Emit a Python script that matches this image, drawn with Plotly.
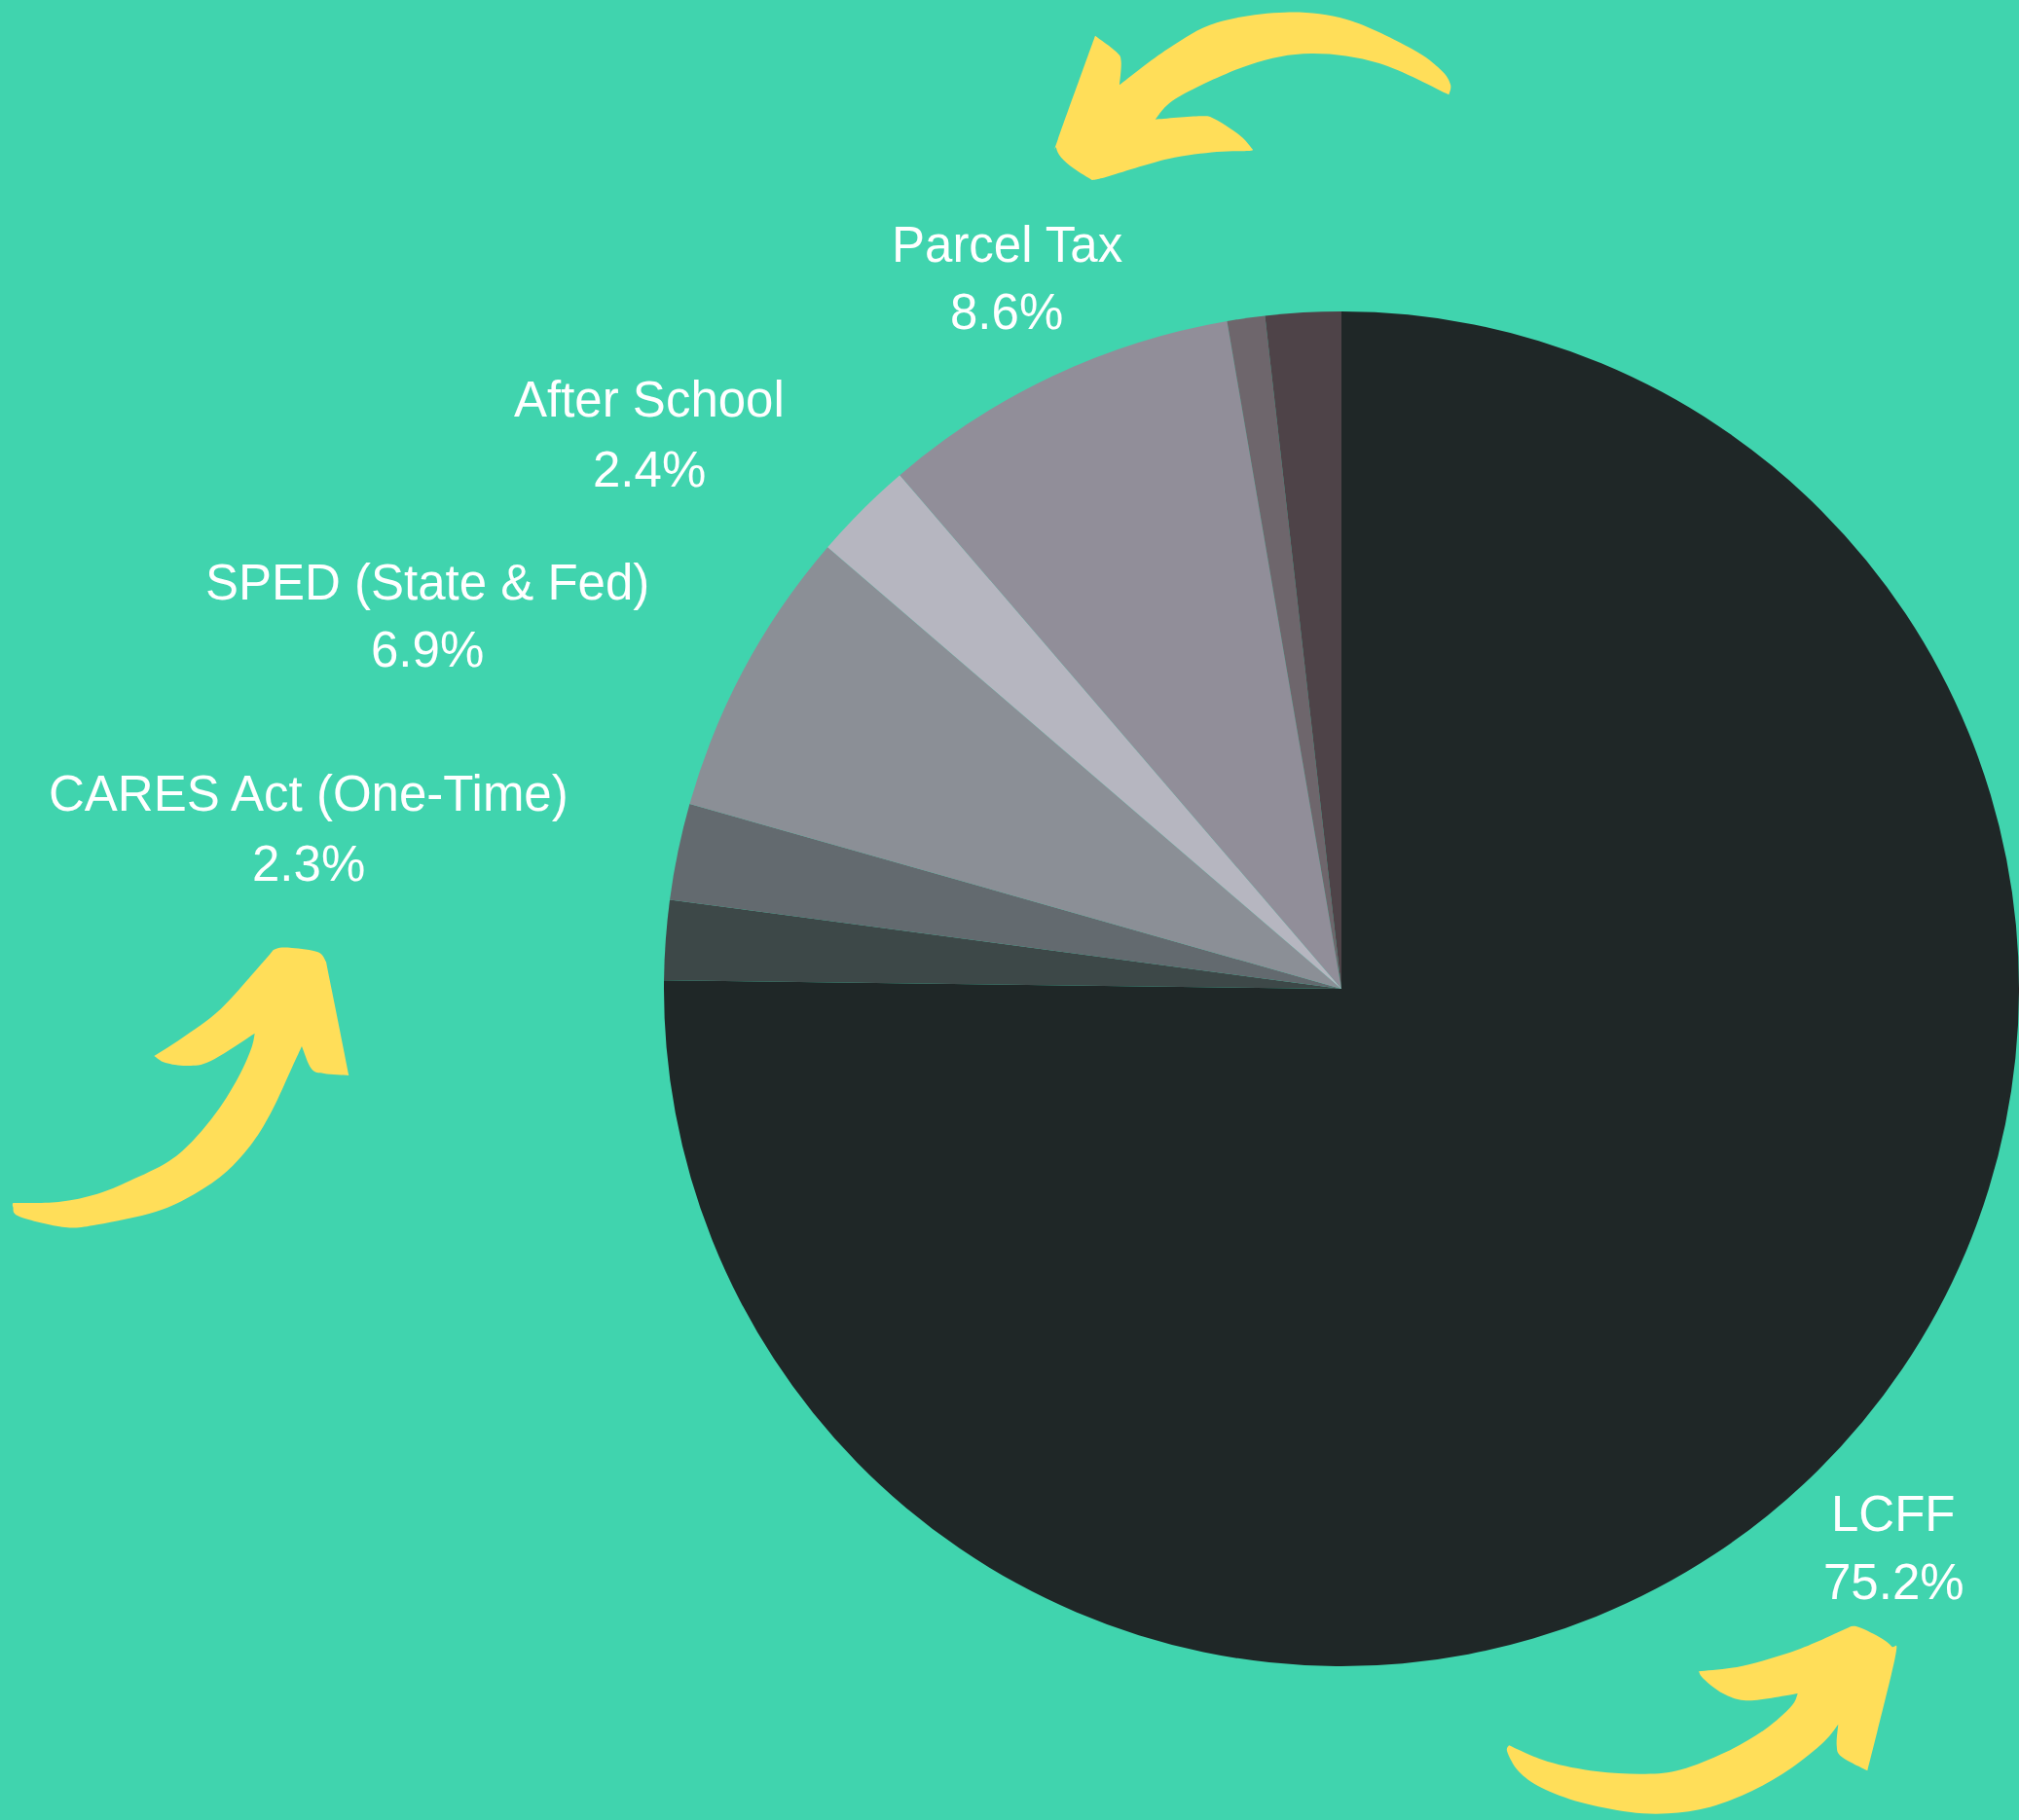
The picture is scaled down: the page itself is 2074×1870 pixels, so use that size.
import plotly.graph_objects as go

# ---- data -------------------------------------------------------------
sources = [
    "LCFF",
    "Other (1)",
    "CARES Act (One-Time)",
    "SPED (State & Fed)",
    "After School",
    "Parcel Tax",
    "Other (2)",
    "Other (3)",
]
shares = [75.2, 1.9, 2.3, 6.9, 2.4, 8.6, 0.9, 1.8]
slice_colors = [
    "#1f2727", "#3d4848", "#636a6f", "#8b8f96",
    "#b6b6c0", "#918e99", "#6e666c", "#4e4348",
]
labelled = ["Parcel Tax", "After School", "SPED (State & Fed)",
            "CARES Act (One-Time)", "LCFF"]

# ---- layout constants (pixels) ---------------------------------------
W, H = 2074, 1870
BG = "#40d4ae"
YELLOW = "#ffde59"
FONT = "Liberation Sans, Arial, sans-serif"
FONT_SIZE = 51

# pie centre / radius in pixels
CX, CY, R = 1378, 1016, 696

# text placement: centre x, name middle y, percentage middle y
label_pos = {
    "Parcel Tax": (1034, 251, 321),
    "After School": (667, 411, 482),
    "SPED (State & Fed)": (439, 598, 668),
    "CARES Act (One-Time)": (317, 816, 887),
    "LCFF": (1945, 1555, 1625),
}


def px(x, y):
    return x / W, 1 - y / H


def catmull(run):
    """Cubic Bezier segments through the points of one smooth run."""
    segs = []
    n = len(run)
    for i in range(n - 1):
        p0 = run[i - 1] if i > 0 else run[i]
        p1 = run[i]
        p2 = run[i + 1]
        p3 = run[i + 2] if i + 2 < n else run[i + 1]
        c1 = (p1[0] + (p2[0] - p0[0]) / 6, p1[1] + (p2[1] - p0[1]) / 6)
        c2 = (p2[0] - (p3[0] - p1[0]) / 6, p2[1] - (p3[1] - p1[1]) / 6)
        segs.append((c1, c2, p2))
    return segs


def outline_path(runs):
    x0, y0 = px(*runs[0][0])
    parts = [f"M {x0:.5f},{y0:.5f}"]
    for run in runs:
        for c1, c2, p in catmull(run):
            a = px(*c1)
            b = px(*c2)
            c = px(*p)
            parts.append(
                f"C {a[0]:.5f},{a[1]:.5f} {b[0]:.5f},{b[1]:.5f} {c[0]:.5f},{c[1]:.5f}"
            )
    parts.append("Z")
    return " ".join(parts)


# hand-drawn style arrows, each outline split into smooth runs joined at corners
arrow_top = [
    [(1488.3, 97.3), (1490, 86.7), (1480, 71.7), (1450, 50), (1383.3, 20),
     (1320, 12.7), (1250, 23.3), (1200, 50), (1150, 87.3)],
    [(1150, 87.3), (1151.7, 63.3), (1146.7, 53.3), (1125, 36.7)],
    [(1125, 36.7), (1086.7, 143.3), (1085, 151.7), (1090, 161.7),
     (1103.3, 173.3), (1121.7, 185)],
    [(1121.7, 185), (1136.7, 181.7), (1200, 163.3), (1250, 156),
     (1283.3, 155), (1286.7, 153.3)],
    [(1286.7, 153.3), (1276.7, 141.7), (1263.3, 131.7), (1246.7, 121.7),
     (1233.3, 119.3), (1186.7, 122.7)],
    [(1186.7, 122.7), (1210, 100), (1283.3, 66.7), (1346.7, 55),
     (1416.7, 65), (1488.3, 97.3)],
]

arrow_left = [
    [(13.3, 1236), (60, 1235), (100, 1226.7), (133.3, 1213.3),
     (173.3, 1193.3), (200, 1170), (226.7, 1136.7), (246.7, 1103.3),
     (258.3, 1076.7), (261.7, 1061.7)],
    [(261.7, 1061.7), (216.7, 1090), (193.3, 1095), (170, 1092),
     (158.3, 1085)],
    [(158.3, 1085), (186.7, 1066.7), (226.7, 1036.7), (273.3, 985),
     (283.3, 975), (300, 974), (326.7, 978.3), (335, 988.3)],
    [(335, 988.3), (346.7, 1046.7), (358.3, 1105)],
    [(358.3, 1105), (333, 1103), (320, 1098.3), (310, 1075)],
    [(310, 1075), (300, 1096.7), (280, 1140), (260, 1173.3),
     (233.3, 1203.3), (200, 1226.7), (160, 1245), (100, 1258.3),
     (66.7, 1261), (20, 1250), (13.3, 1240), (13.3, 1236)],
]

arrow_bottom = [
    [(1550, 1793.3), (1548.3, 1800), (1560, 1820), (1583.3, 1836.7),
     (1623.3, 1851.7), (1673.3, 1861.7), (1713.3, 1863.3),
     (1756.7, 1856.7), (1800, 1840), (1840, 1816.7), (1873.3, 1790),
     (1888.3, 1771.7)],
    [(1888.3, 1771.7), (1886.7, 1793.3), (1891.7, 1805), (1918.3, 1819.3)],
    [(1918.3, 1819.3), (1946.7, 1703.3), (1943.3, 1691.7), (1930, 1681.7),
     (1906.7, 1671), (1896.7, 1673.3)],
    [(1896.7, 1673.3), (1846.7, 1695), (1790, 1711.7), (1745, 1717.3)],
    [(1745, 1717.3), (1750, 1725), (1770, 1740), (1796.7, 1747.3),
     (1846.7, 1740)],
    [(1846.7, 1740), (1840, 1753.3), (1813.3, 1776.7), (1773.3, 1800),
     (1726.7, 1818.3), (1690, 1822.7), (1640, 1820), (1590, 1810),
     (1550, 1793.3)],
]

# ---- figure -----------------------------------------------------------
fig = go.Figure(
    go.Pie(
        labels=sources,
        values=shares,
        sort=False,
        direction="clockwise",
        rotation=0,
        marker=dict(colors=slice_colors, line=dict(width=0)),
        textinfo="none",
        hoverinfo="label+percent",
        showlegend=False,
        domain=dict(
            x=[(CX - R) / W, (CX + R) / W],
            y=[1 - (CY + R) / H, 1 - (CY - R) / H],
        ),
    )
)

annotations = []
for name in labelled:
    val = shares[sources.index(name)]
    xc, y_name, y_pct = label_pos[name]
    for text, yy in ((name, y_name), (f"{val:.1f}%", y_pct)):
        ax, ay = px(xc, yy)
        annotations.append(
            dict(
                x=ax, y=ay, xref="paper", yref="paper",
                text=text, showarrow=False,
                xanchor="center", yanchor="middle",
                font=dict(family=FONT, size=FONT_SIZE, color="#ffffff"),
            )
        )

shapes = [
    dict(type="path", xref="paper", yref="paper", path=outline_path(a),
         fillcolor=YELLOW, line=dict(width=0), layer="above")
    for a in (arrow_top, arrow_left, arrow_bottom)
]

fig.update_layout(
    width=W,
    height=H,
    margin=dict(l=0, r=0, t=0, b=0, pad=0),
    paper_bgcolor=BG,
    plot_bgcolor=BG,
    annotations=annotations,
    shapes=shapes,
)

fig.write_html("out.html", config={"displayModeBar": False})
